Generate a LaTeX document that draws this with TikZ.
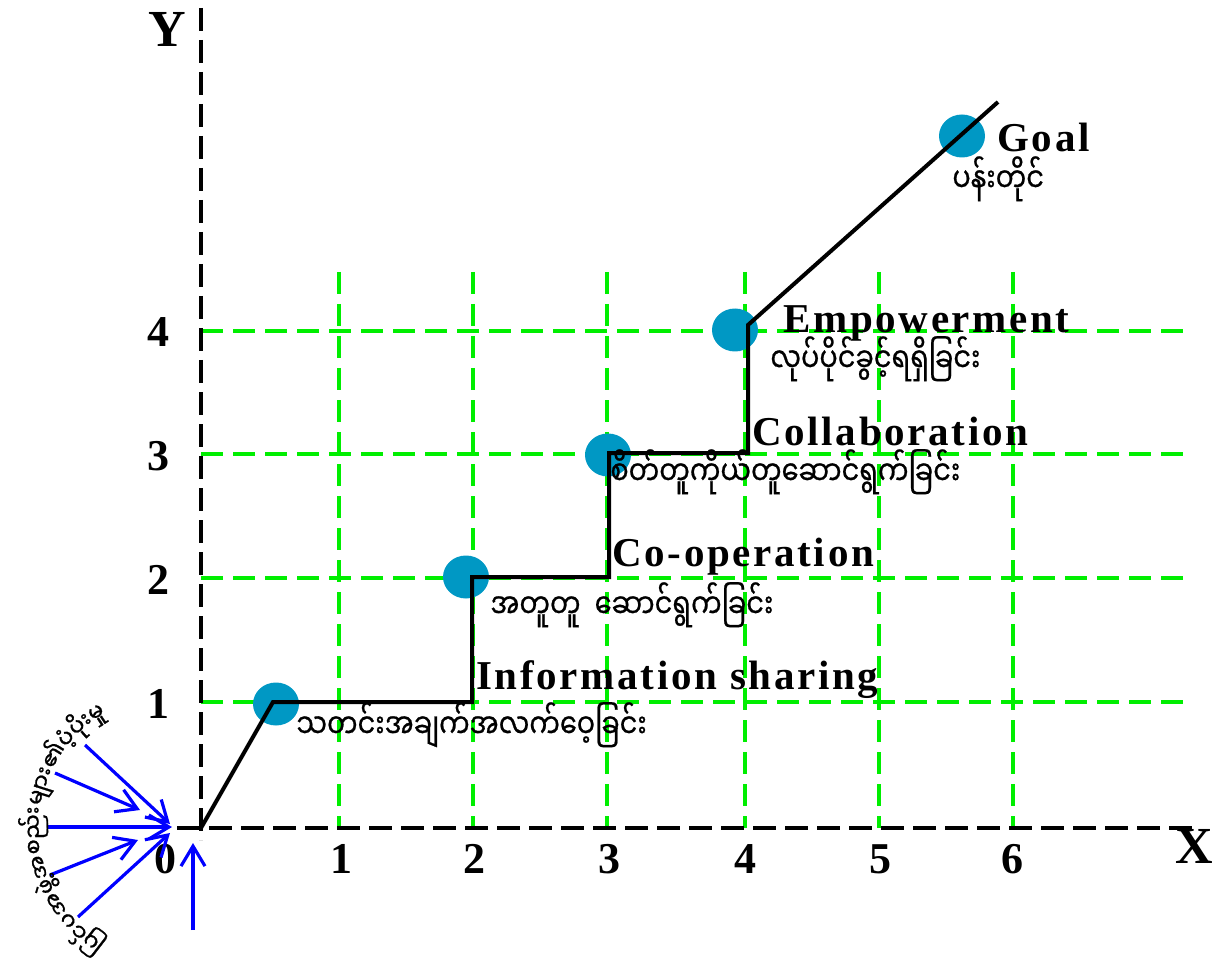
\documentclass[tikz,border=0pt]{standalone}
\usepackage{fontspec}
\setmainfont{Liberation Serif}
\newfontfamily\myfont[Script=Myanmar,FakeStretch=0.8,FakeBold=0.6]{Noto Sans Myanmar UI}
\newfontfamily\arcfont[Script=Myanmar,FakeBold=1]{Noto Sans Myanmar UI}
\newfontfamily\lblfont[LetterSpace=6.5]{Liberation Serif}
\usetikzlibrary{arrows.meta,calc,shapes.geometric}
\definecolor{gridgreen}{RGB}{0,238,0}
\definecolor{dotblue}{RGB}{0,152,196}
\definecolor{arrblue}{RGB}{0,0,255}
\newlength\sylw
\newlength\totw
\newcommand\arcf{\arcfont\fontsize{13}{15}\selectfont}
\def\arcsyl{ပြင်,ပ,အ,ဖွဲ့,အ,စည်း,များ,၏,ပံ့,ပိုး,မှု}
\tikzset{
  axisline/.style={line width=1.6pt, dash pattern=on 11.5pt off 4.5pt},
  gridline/.style={gridgreen, line width=1.6pt, dash pattern=on 11pt off 5pt},
  stair/.style={line width=2pt, line join=miter},
  dot/.style={ellipse, fill=dotblue, minimum width=23pt, minimum height=21.5pt, inner sep=0},
  eng/.style={font=\lblfont\bfseries\fontsize{20.5}{24}\selectfont, anchor=base west, inner sep=0},
  mya/.style={font=\myfont\fontsize{17}{20}\selectfont, anchor=base west, inner sep=0},
  num/.style={font=\bfseries\fontsize{22}{26}\selectfont, anchor=base, inner sep=0},
  axl/.style={font=\bfseries\fontsize{26}{30}\selectfont, anchor=base, inner sep=0},
  inarrow/.style={arrblue, line width=1.6pt, -{Straight Barb[length=10pt,width=12pt,line width=1.6pt]}},
  arctext/.style={anchor=base, inner sep=0},
}
\begin{document}
\settowidth{\totw}{\arcf ပြင်ပအဖွဲ့အစည်းများ၏ပံ့ပိုးမှု}%
\ifdim\totw<1pt \global\totw=100pt \fi
\global\totw=\totw
\pgfmathsetmacro\arcs{140/\totw}%
\xdef\arcs{\arcs}%
\foreach \s [count=\k] in \arcsyl {\settowidth{\sylw}{\arcf\s}\ifdim\sylw<0.1pt \sylw=7pt\fi\expandafter\xdef\csname sylw\k\endcsname{\the\sylw}}%
\begin{tikzpicture}[x=0.5pt,y=0.5pt]
\useasboundingbox (0,0) rectangle (1223,-979);
% grid
\foreach \gx in {339,473,607,745,879,1013} \draw[gridline] (\gx,-272) -- (\gx,-828);
\foreach \gy in {702,578,454,331} \draw[gridline] (201,-\gy) -- (1192,-\gy);
% axes
\coordinate (O) at (201,-828);
\coordinate (ytop) at (201,-8);
\coordinate (ybot) at (201,-840);
\coordinate (xleft) at (177,-828);
\coordinate (xright) at (1192,-828);
\draw[axisline] (ytop) -- (ybot);
\draw[axisline] (xleft) -- (xright);
\node[axl] (Ylab) at (167,-47) {Y};
\node[axl] (Xlab) at (1194,-863) {X};
\node[num] (n0) at (165,-873) {0};
\foreach \v/\px in {1/341,2/474,3/609,4/745,5/880,6/1012}
  \node[num] (nx\v) at (\px,-873) {\v};
\foreach \v/\py in {1/718,2/594,3/470,4/346}
  \node[num] (ny\v) at (158,-\py) {\v};
% dots
\node[dot] (d1) at (276,-704) {};
\node[dot] (d2) at (466,-577) {};
\node[dot] (d3) at (608,-455) {};
\node[dot] (d4) at (735,-330) {};
\node[dot] (d5) at (962,-136) {};
% staircase
\coordinate (s1) at (273,-702);
\coordinate (s2) at (472,-702);
\coordinate (s3) at (472,-577);
\coordinate (s4) at (609,-577);
\coordinate (s5) at (609,-453);
\coordinate (s6) at (748,-453);
\coordinate (s7) at (748,-325);
\coordinate (s8) at (998,-102);
\draw[stair] (O) -- (s1) -- (s2) -- (s3) -- (s4) -- (s5) -- (s6) -- (s7) -- (s8);
% labels
\node[eng] (l1) at (476,-689) {Information sharing};
\node[mya] (m1) at (296,-738) {သတင်းအချက်အလက်ဝေ့ခြင်း};
\node[eng] (l2) at (612,-566) {Co-operation};
\node[mya] (m2) at (490,-618) {အတူတူ~~ဆောင်ရွက်ခြင်း};
\node[eng] (l3) at (752,-445) {Collaboration};
\node[mya] (m3) at (610,-485) {စိတ်တူကိုယ်တူဆောင်ရွက်ခြင်း};
\node[eng] (l4) at (783,-333) {Empowerment};
\node[mya] (m4) at (770,-372) {လုပ်ပိုင်ခွင့်ရရှိခြင်း};
\node[eng] (l5) at (997,-152) {Goal};
\node[mya] (m5) at (952,-192) {ပန်းတိုင်};
% incoming arrows
\coordinate (a1s) at (85,-745);  \coordinate (a1e) at (170,-824);
\coordinate (a2s) at (55,-773);  \coordinate (a2e) at (140,-810);
\coordinate (a3s) at (47,-827);  \coordinate (a3e) at (172,-827);
\coordinate (a4s) at (50,-875);  \coordinate (a4e) at (138,-840);
\coordinate (a5s) at (78,-917);  \coordinate (a5e) at (170,-833);
\coordinate (a6s) at (193,-930); \coordinate (a6e) at (193,-843);
\foreach \k in {1,...,6} \draw[inarrow] (a\k s) -- (a\k e);
% curved text
\coordinate (C) at (172,-828);
\xdef\curang{240}
\foreach \s [count=\k] in \arcsyl {
  \pgfmathsetmacro\da{120*\csname sylw\k\endcsname/\the\totw}
  \pgfmathsetmacro\midang{\curang-\da/2}
  \node[arctext, rotate=\midang-90] (arc\k) at ($(C)+(\midang:130)$) {\scalebox{\arcs}{\arcf\s}};
  \pgfmathsetmacro\nxt{\curang-\da}
  \xdef\curang{\nxt}
}
\end{tikzpicture}
\end{document}
